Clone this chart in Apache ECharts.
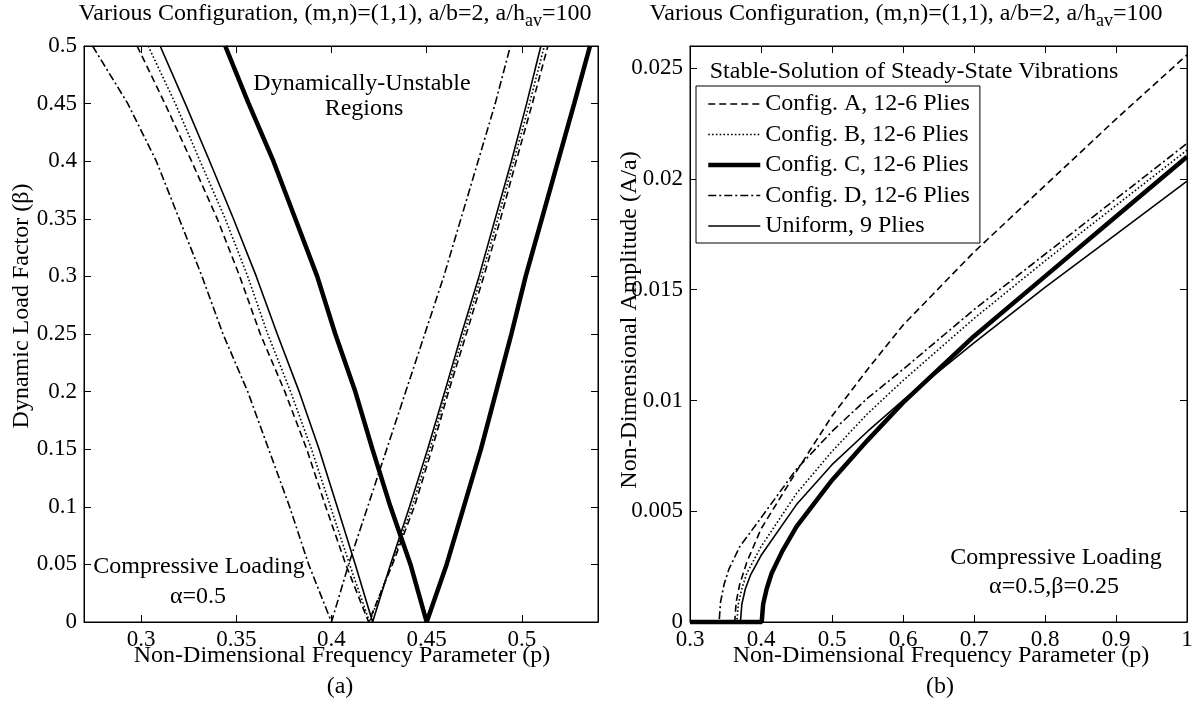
<!DOCTYPE html>
<html>
<head>
<meta charset="utf-8">
<script src="https://cdn.jsdelivr.net/npm/echarts@6/dist/echarts.min.js"></script>
<style>
  html, body { margin: 0; padding: 0; background: #fff; }
  #chart { width: 1200px; height: 702px; }
</style>
</head>
<body>
<div id="chart"></div>
<script>
// ---- (a) Instability boundaries: dynamic load factor vs frequency parameter ----
const betaLevels = [0, 0.05, 0.1, 0.15, 0.2, 0.25, 0.3, 0.35, 0.4, 0.45, 0.5];
// frequency on the lower and upper boundary of each unstable region, one value per beta level
const lowerA = [0.4195, 0.4075, 0.3970, 0.3870, 0.3755, 0.3626, 0.3518, 0.3400, 0.3265, 0.3125, 0.2979];
const upperA = [0.4195, 0.4320, 0.4435, 0.4528, 0.4615, 0.4708, 0.4800, 0.4888, 0.4970, 0.5055, 0.5137];
const lowerB = [0.4200, 0.4095, 0.3995, 0.3895, 0.3785, 0.3665, 0.3560, 0.3442, 0.3310, 0.3180, 0.3037];
const upperB = [0.4200, 0.4315, 0.4423, 0.4517, 0.4605, 0.4695, 0.4787, 0.4874, 0.4957, 0.5040, 0.5118];
const lowerC = [0.4500, 0.4415, 0.4310, 0.4215, 0.4125, 0.4020, 0.3925, 0.3810, 0.3695, 0.3565, 0.3442];
const upperC = [0.4500, 0.4605, 0.4695, 0.4785, 0.4865, 0.4945, 0.5020, 0.5105, 0.5190, 0.5275, 0.5358];
const lowerD = [0.4000, 0.3880, 0.3780, 0.3670, 0.3560, 0.3430, 0.3320, 0.3200, 0.3080, 0.2930, 0.2745];
const upperD = [0.4000, 0.4090, 0.4190, 0.4290, 0.4390, 0.4490, 0.4590, 0.4680, 0.4770, 0.4860, 0.4940];
const lowerU = [0.4216, 0.4125, 0.4030, 0.3935, 0.3830, 0.3715, 0.3605, 0.3485, 0.3360, 0.3232, 0.3100];
const upperU = [0.4216, 0.4310, 0.4410, 0.4505, 0.4595, 0.4683, 0.4775, 0.4860, 0.4945, 0.5025, 0.5100];

// ---- (b) Stable steady-state amplitude vs frequency parameter ----
const freqA = [0.3, 0.363, 0.365, 0.37, 0.38, 0.4, 0.45, 0.5, 0.55, 0.6, 0.7, 0.8, 0.9, 1.0];
const ampA  = [0, 0, 0.0009, 0.0017, 0.0027, 0.0042, 0.0068, 0.0093, 0.0114, 0.0134, 0.0167, 0.0197, 0.0227, 0.0256];
const freqB = [0.3, 0.366, 0.368, 0.373, 0.38, 0.4, 0.45, 0.5, 0.55, 0.6, 0.7, 0.8, 0.9, 1.0];
const ampB  = [0, 0, 0.0008, 0.0015, 0.0022, 0.0034, 0.0058, 0.0077, 0.0094, 0.0109, 0.0137, 0.0163, 0.0188, 0.0213];
const freqC = [0.3, 0.401, 0.403, 0.408, 0.415, 0.43, 0.45, 0.5, 0.55, 0.6, 0.7, 0.8, 0.9, 1.0];
const ampC  = [0, 0, 0.0008, 0.0015, 0.0022, 0.0032, 0.0043, 0.0064, 0.0082, 0.0099, 0.0129, 0.0156, 0.0183, 0.0210];
const freqD = [0.3, 0.341, 0.343, 0.348, 0.355, 0.37, 0.4, 0.45, 0.5, 0.55, 0.6, 0.7, 0.8, 0.9, 1.0];
const ampD  = [0, 0, 0.0009, 0.0017, 0.0024, 0.0034, 0.0047, 0.0069, 0.0086, 0.0101, 0.0114, 0.0141, 0.0166, 0.0191, 0.0216];
const freqU = [0.3, 0.371, 0.373, 0.378, 0.385, 0.4, 0.45, 0.5, 0.55, 0.6, 0.7, 0.8, 0.9, 1.0];
const ampU  = [0, 0, 0.0008, 0.0015, 0.0021, 0.0030, 0.0053, 0.0071, 0.0086, 0.0100, 0.0126, 0.0151, 0.0175, 0.0199];

// ---- tick labels ----
const ticksLeftX  = [0.3, 0.35, 0.4, 0.45, 0.5];
const ticksLeftY  = [0, 0.05, 0.1, 0.15, 0.2, 0.25, 0.3, 0.35, 0.4, 0.45, 0.5];
const ticksRightX = [0.3, 0.4, 0.5, 0.6, 0.7, 0.8, 0.9, 1];
const ticksRightY = [0, 0.005, 0.01, 0.015, 0.02, 0.025];

const seriesNames = ['Config. A, 12-6 Plies', 'Config. B, 12-6 Plies', 'Config. C, 12-6 Plies',
                     'Config. D, 12-6 Plies', 'Uniform, 9 Plies'];

const FONT = '"Liberation Serif", "Times New Roman", serif';
const INK = '#000';
const FS = 24;

// line looks per configuration
const looks = [
  { type: [7, 4], width: 1.6 },        // A dashed
  { type: [1.6, 2.2], width: 1.6 },    // B dotted
  { type: 'solid', width: 4.5 },       // C thick
  { type: [8, 3, 2, 3], width: 1.6 },  // D dash-dot
  { type: 'solid', width: 1.6 }        // uniform
];

// V-shaped region: lower boundary from top down to the apex, then upper boundary back up
function region(lower, upper) {
  const pts = [];
  for (let i = betaLevels.length - 1; i >= 0; i--) pts.push([lower[i], betaLevels[i]]);
  for (let i = 1; i < betaLevels.length; i++) pts.push([upper[i], betaLevels[i]]);
  return pts;
}
function pairs(xs, ys) { return xs.map((x, i) => [x, ys[i]]); }

const regions = [region(lowerA, upperA), region(lowerB, upperB), region(lowerC, upperC),
                 region(lowerD, upperD), region(lowerU, upperU)];
const responses = [pairs(freqA, ampA), pairs(freqB, ampB), pairs(freqC, ampC),
                   pairs(freqD, ampD), pairs(freqU, ampU)];

const fmt = v => String(+(+v).toFixed(4));

function axisCommon(extra) {
  return Object.assign({
    type: 'value',
    axisLine: { show: true, onZero: false, lineStyle: { color: INK, width: 1 } },
    axisTick: { show: true, inside: true, length: 7, lineStyle: { color: INK, width: 1 } },
    splitLine: { show: false },
    axisLabel: { show: false }
  }, extra);
}
function labelled(ticks, margin) {
  return {
    axisTick: { show: true, inside: true, length: 7, customValues: ticks, lineStyle: { color: INK, width: 1 } },
    axisLabel: { show: true, customValues: ticks, formatter: fmt, color: INK,
                 fontFamily: FONT, fontSize: 23, margin: margin }
  };
}
function mirrored(ticks) {
  return { axisTick: { show: true, inside: true, length: 7, customValues: ticks, lineStyle: { color: INK, width: 1 } } };
}

const series = [];
responses.forEach((d, i) => {
  series.push({
    name: seriesNames[i], type: 'line', xAxisIndex: 2, yAxisIndex: 2, data: d,
    symbol: 'none', clip: false, z: i === 2 ? 3 : 4, color: INK,
    lineStyle: { color: INK, type: looks[i].type, width: looks[i].width }
  });
});
regions.forEach((d, i) => {
  series.push({
    name: seriesNames[i], type: 'line', xAxisIndex: 0, yAxisIndex: 0, data: d,
    symbol: 'none', clip: true, z: i === 2 ? 3 : 4, color: INK,
    lineStyle: { color: INK, type: looks[i].type, width: looks[i].width }
  });
});

function txt(text, x, y, size, rot) {
  return {
    type: 'text', x: x, y: y, rotation: rot || 0, z: 10,
    style: { text: text, fill: INK, font: (size || FS) + 'px ' + FONT, align: 'center', verticalAlign: 'middle' }
  };
}
function header(x) {
  return {
    type: 'text', x: x, y: 16, z: 10,
    style: {
      text: '{n|Various Configuration, (m,n)=(1,1), a/b=2, a/h}{s|av}{n|=100}',
      align: 'center', verticalAlign: 'middle', fill: INK,
      rich: {
        n: { fontFamily: FONT, fontSize: FS, fill: INK, lineHeight: 28, verticalAlign: 'top' },
        s: { fontFamily: FONT, fontSize: 18, fill: INK, lineHeight: 28, verticalAlign: 'top', padding: [10, 0, 0, 0] }
      }
    }
  };
}

const option = {
  animation: false,
  backgroundColor: '#fff',
  grid: [
    { left: 84, top: 46, width: 514, height: 576, show: true, borderColor: INK, borderWidth: 1 },
    { left: 690, top: 46, width: 497, height: 576, show: true, borderColor: INK, borderWidth: 1 }
  ],
  xAxis: [
    axisCommon(Object.assign({ gridIndex: 0, min: 0.27, max: 0.54, position: 'bottom' }, labelled(ticksLeftX, 6))),
    axisCommon(Object.assign({ gridIndex: 0, min: 0.27, max: 0.54, position: 'top' }, mirrored(ticksLeftX))),
    axisCommon(Object.assign({ gridIndex: 1, min: 0.3, max: 1, position: 'bottom' }, labelled(ticksRightX, 6))),
    axisCommon(Object.assign({ gridIndex: 1, min: 0.3, max: 1, position: 'top' }, mirrored(ticksRightX)))
  ],
  yAxis: [
    axisCommon(Object.assign({ gridIndex: 0, min: 0, max: 0.5, position: 'left' }, labelled(ticksLeftY, 7))),
    axisCommon(Object.assign({ gridIndex: 0, min: 0, max: 0.5, position: 'right' }, mirrored(ticksLeftY))),
    axisCommon(Object.assign({ gridIndex: 1, min: 0, max: 0.026, position: 'left' }, labelled(ticksRightY, 7))),
    axisCommon(Object.assign({ gridIndex: 1, min: 0, max: 0.026, position: 'right' }, mirrored(ticksRightY)))
  ],
  legend: {
    data: seriesNames.map((n, i) => ({
      name: n,
      lineStyle: { color: INK, width: looks[i].width, type: looks[i].type }
    })),
    orient: 'vertical',
    left: 696, top: 86,
    selectedMode: false,
    backgroundColor: '#fff',
    borderColor: INK, borderWidth: 1, borderRadius: 0,
    padding: [6, 10, 5, 10],
    itemWidth: 52, itemHeight: 20, itemGap: 6.5,
    itemStyle: { opacity: 0 },
    textStyle: { color: INK, fontFamily: FONT, fontSize: FS }
  },
  graphic: [
    header(335), header(906),
    txt('Dynamically-Unstable', 362, 84),
    txt('Regions', 364, 109),
    txt('Compressive Loading', 199, 567),
    txt('\u03b1=0.5', 198, 597),
    txt('Compressive Loading', 1056, 558),
    txt('\u03b1=0.5,\u03b2=0.25', 1054, 587),
    txt('Stable-Solution of Steady-State Vibrations', 914, 72),
    txt('Dynamic Load Factor (\u03b2)', 22, 306, FS, Math.PI / 2),
    txt('Non-Dimensional Amplitude (A/a)', 630, 320, FS, Math.PI / 2),
    txt('Non-Dimensional Frequency Parameter (p)', 342, 656),
    txt('Non-Dimensional Frequency Parameter (p)', 941, 656),
    txt('(a)', 340, 687),
    txt('(b)', 940, 687)
  ],
  series: series
};

const chart = echarts.init(document.getElementById('chart'), null, { renderer: 'canvas' });
chart.setOption(option);
</script>
</body>
</html>
